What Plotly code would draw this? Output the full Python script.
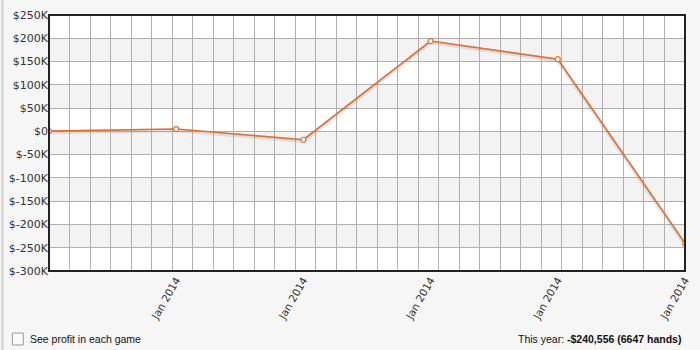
import plotly.graph_objects as go

x_idx = [0, 1, 2, 3, 4, 5]
profit = [500, 5000, -18000, 194000, 155000, -240556]
x_tick_vals = [1, 2, 3, 4, 5]
x_tick_text = ["Jan 2014"] * 5
y_tick_vals = [250000, 200000, 150000, 100000, 50000, 0, -50000, -100000, -150000, -200000, -250000, -300000]
y_tick_text = ["$250K", "$200K", "$150K", "$100K", "$50K", "$0", "$-50K", "$-100K", "$-150K", "$-200K", "$-250K", "$-300K"]
gray_bands = [(150000, 200000), (50000, 100000), (-50000, 0), (-150000, -100000), (-250000, -200000)]

FONT = "DejaVu Sans"
FOOT = "Liberation Sans"
LINE = "#e07030"

fig = go.Figure()
fig.add_trace(go.Scatter(
    x=x_idx, y=[v - 2500 for v in profit], mode="lines",
    line=dict(color="rgba(120,120,120,0.18)", width=4),
    hoverinfo="skip", showlegend=False))
fig.add_trace(go.Scatter(
    x=x_idx, y=profit, mode="lines+markers",
    line=dict(color=LINE, width=1.6),
    marker=dict(size=5, color="white", line=dict(color=LINE, width=1.2)),
    showlegend=False))

shapes = []
for lo, hi in gray_bands:
    shapes.append(dict(type="rect", xref="paper", yref="y", x0=0, x1=1, y0=lo, y1=hi,
                       fillcolor="#f3f3f3", line=dict(width=0), layer="below"))
# plot frame
shapes.append(dict(type="rect", xref="paper", yref="paper", x0=0, x1=1, y0=0, y1=1,
                   line=dict(color="#222222", width=2), layer="above"))
# checkbox
shapes.append(dict(type="rect", xref="paper", yref="paper",
                   x0=(11 - 48) / 643, x1=(22 - 48) / 643,
                   y0=(271 - 345) / 256, y1=(271 - 333) / 256,
                   line=dict(color="#9a9a9a", width=1), fillcolor="#fafafa"))
# page left border
shapes.append(dict(type="line", xref="paper", yref="paper",
                   x0=(1 - 48) / 643, x1=(1 - 48) / 643, y0=-0.32, y1=1.06,
                   line=dict(color="#cfcfcf", width=2)))

annotations = [
    dict(xref="paper", yref="paper", x=(27 - 48) / 643, y=(271 - 339) / 256,
         xanchor="left", yanchor="middle", showarrow=False,
         text="See profit in each game", font=dict(family=FOOT, size=10.5, color="#111111")),
    dict(xref="paper", yref="paper", x=(689 - 48) / 643, y=(271 - 339) / 256,
         xanchor="right", yanchor="middle", showarrow=False,
         text="This year: <b>-$240,556 (6647 hands)</b>", font=dict(family=FOOT, size=10.5, color="#111111")),
]

fig.update_layout(
    width=700, height=350,
    margin=dict(l=48, r=9, t=15, b=79),
    paper_bgcolor="#f6f6f6", plot_bgcolor="white",
    font=dict(family=FONT, size=11, color="#333333"),
    shapes=shapes, annotations=annotations,
    xaxis=dict(range=[0, 5], tickvals=x_tick_vals, ticktext=x_tick_text, tickangle=-60,
               showgrid=False, zeroline=False, showline=False, ticks="",
               tickfont=dict(family=FONT, size=10.5, color="#333333"),
               minor=dict(dtick=5 / 31, tick0=0, showgrid=True, gridcolor="#b0b0b0", gridwidth=1)),
    yaxis=dict(range=[-300000, 250000], tickvals=y_tick_vals, ticktext=y_tick_text,
               showgrid=True, gridcolor="#b0b0b0", gridwidth=1, zeroline=False, showline=False,
               ticks="", tickfont=dict(family=FONT, size=11, color="#333333")),
)

fig.write_html("out.html")
